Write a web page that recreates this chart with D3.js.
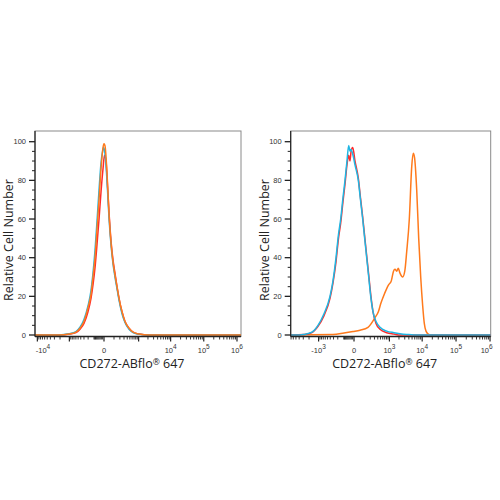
<!DOCTYPE html>
<html>
<head>
<meta charset="utf-8">
<script src="https://cdn.jsdelivr.net/npm/d3@7"></script>
<style>
  body { margin: 0; background: #fff; }
</style>
</head>
<body>
<svg id="chart" width="500" height="500"></svg>
<script>
// histogram traces, [fluorescence, relative count]
const leftRed = [[-2156,0],[-1029,0.4],[-595,1.2],[-427,3],[-300,6],[-203,12],[-146,19],[-114,26],[-86,35],[-62,47],[-41,60],[-23,74],[-7,86],[3.5,93],[15,90],[23,82],[41,64],[62,49],[86,39],[114,32],[146,25],[183,19],[248,12],[328,7],[465,3.5],[645,1.5],[1029,0.5],[2156,0]];
const leftCyan = [[-2156,0],[-1029,0.6],[-595,1.8],[-427,4],[-300,8],[-203,15],[-146,23],[-114,32],[-86,44],[-62,59],[-41,75],[-23,89],[-7,96],[-3.5,97],[7,94],[23,80],[41,61],[62,47],[86,37],[114,30],[146,24],[183,18],[248,11],[328,6.5],[465,3],[645,1.3],[1029,0.4],[2156,0]];
const leftOrange = [[-2156,0],[-1029,0.5],[-595,1.5],[-427,3.5],[-300,7],[-203,14],[-146,21],[-114,30],[-86,40],[-62,55],[-41,70],[-23,86],[-7,97],[0,99],[7,98],[23,84],[41,63],[62,48],[86,38],[114,31],[146,25],[183,19],[248,12],[328,7],[465,3.5],[645,1.5],[1029,0.5],[2156,0]];

const rightRed = [[-2850,0.2],[-1620,1.3],[-1044,4.5],[-662,10],[-408,19],[-315,27],[-238,38],[-186,50],[-146,58],[-111,69],[-84,78],[-61,88],[-43,93],[-31,90],[-22,95],[-9,97],[7,90],[34,81],[55,71],[80,61],[106,51],[136,41],[171,31],[210,21],[262,12],[344,6],[481,3],[815,1.2],[1400,0.5],[2150,0]];
const rightCyan = [[-3770,0],[-2850,0.3],[-1620,1.5],[-1044,5],[-662,11],[-408,20],[-315,28],[-238,40],[-186,52],[-146,60],[-111,71],[-84,80],[-61,90],[-43,98],[-31,95],[-22,96],[-7,93],[7,88],[34,80],[55,70],[80,60],[106,50],[136,40],[171,30],[210,20],[262,12],[344,7],[481,4],[815,2],[1400,1.2],[2150,0.7],[3440,0.3],[5710,0]];
const rightOrange = [[-315,0.2],[-97,1],[-7,1.8],[50,2.5],[158,4],[315,9],[420,12],[520,16.5],[598,19],[815,24],[950,26],[1150,28],[1350,33],[1505,34],[1700,33],[1900,34.5],[2150,32],[2603,30],[3010,33],[3440,43],[4130,60],[4875,87],[5400,94],[5900,92],[6880,75],[7890,50],[9050,30],[10370,15],[11570,6],[13000,2],[15200,0.5],[19150,0]];

const colors = { red: "#ff2b2b", cyan: "#1fb6e3", orange: "#ff7a1c" };

const yTicks = [0, 20, 40, 60, 80, 100];
const xLabelsLeft = [[-1e4, "-10", "4"], [0, "0", ""], [1e4, "10", "4"], [1e5, "10", "5"], [1e6, "10", "6"]];
const xLabelsRight = [[-1e3, "-10", "3"], [0, "0", ""], [1e3, "10", "3"], [1e4, "10", "4"], [1e5, "10", "5"], [1e6, "10", "6"]];
const yTitle = "Relative Cell Number";

const svg = d3.select("#chart");

function majorMinor(domain) {
  const major = [-1e4, -1e3, 0, 1e3, 1e4, 1e5, 1e6];
  let minor = [];
  [100, 1000, 10000, 100000].forEach(b => {
    for (let m = 2; m <= 9; m++) { minor.push(m * b); minor.push(-m * b); }
  });
  for (let m = 1; m <= 9; m++) minor.push(-m * 10);
  minor.push(100, -100);
  const inD = v => v >= domain[0] && v <= domain[1];
  return { major: major.filter(inD), minor: minor.filter(inD) };
}

function drawPanel(opt) {
  const g = svg.append("g");
  const x = d3.scaleSymlog().constant(100).domain(opt.xDomain).range([opt.left, opt.right]);
  const y = d3.scaleLinear().domain([0, 100]).range([335, 141.7]);
  const top = 131, bottom = 336.5;

  // frame
  g.append("rect")
    .attr("x", opt.left).attr("y", top)
    .attr("width", opt.right - opt.left).attr("height", bottom - top)
    .attr("fill", "none").attr("stroke", "#8a8a8a").attr("stroke-width", 1);

  const line = d3.line().x(d => x(d[0])).y(d => y(d[1])).curve(d3.curveMonotoneX);

  opt.traces.forEach(t => {
    const pts = [[opt.xDomain[0], 0]].concat(t.data).concat([[opt.xDomain[1], 0]]);
    g.append("path")
      .attr("d", line(pts))
      .attr("fill", "none")
      .attr("stroke", t.color)
      .attr("stroke-width", 1.5)
      .attr("stroke-linejoin", "round");
  });

  // axes lines
  g.append("line").attr("x1", opt.left).attr("x2", opt.right).attr("y1", bottom).attr("y2", bottom)
    .attr("stroke", "#222").attr("stroke-width", 1.6);
  g.append("line").attr("x1", opt.left).attr("x2", opt.left).attr("y1", top).attr("y2", bottom)
    .attr("stroke", "#222").attr("stroke-width", 1.2);

  // x ticks
  const tk = majorMinor(opt.xDomain);
  tk.major.forEach(v => {
    g.append("line").attr("x1", x(v)).attr("x2", x(v)).attr("y1", bottom).attr("y2", bottom + 5)
      .attr("stroke", "#222").attr("stroke-width", 1.2);
  });
  tk.minor.forEach(v => {
    g.append("line").attr("x1", x(v)).attr("x2", x(v)).attr("y1", bottom).attr("y2", bottom + 3)
      .attr("stroke", "#222").attr("stroke-width", 0.9);
  });

  opt.xLabels.forEach(l => {
    let px = Math.min(Math.max(x(l[0]), opt.left + 8), opt.right - 4);
    const t = g.append("text")
      .attr("x", px).attr("y", 353)
      .attr("text-anchor", "middle")
      .attr("font-family", "Liberation Sans, Arial, sans-serif")
      .attr("font-size", 7.5).attr("fill", "#333");
    t.append("tspan").text(l[1]);
    if (l[2]) t.append("tspan").attr("dy", -4).attr("font-size", 6.5).text(l[2]);
  });

  // y ticks
  for (let v = 0; v <= 100; v += 5) {
    const major = v % 20 === 0;
    g.append("line").attr("x1", opt.left - (major ? 6 : 3)).attr("x2", opt.left)
      .attr("y1", y(v)).attr("y2", y(v))
      .attr("stroke", "#222").attr("stroke-width", major ? 1.3 : 1);
  }
  yTicks.forEach(v => {
    g.append("text")
      .attr("x", opt.left - 9).attr("y", y(v))
      .attr("dy", "0.35em")
      .attr("text-anchor", "end")
      .attr("font-family", "Liberation Sans, Arial, sans-serif")
      .attr("font-size", 7.5).attr("fill", "#333")
      .text(v);
  });

  // titles
  const xt = g.append("text")
    .attr("x", (opt.left + opt.right) / 2 - 6).attr("y", 368)
    .attr("text-anchor", "middle")
    .attr("font-family", "Open Sans, sans-serif")
    .attr("font-size", 12.5).attr("fill", "#222");
  xt.append("tspan").text("CD272-ABflo");
  xt.append("tspan").attr("font-size", 8.5).attr("dy", -3).text("®");
  xt.append("tspan").attr("dy", 3).text(" 647");

  g.append("text")
    .attr("transform", `translate(${opt.left - 22},240) rotate(-90)`)
    .attr("text-anchor", "middle")
    .attr("font-family", "Open Sans, sans-serif")
    .attr("font-size", 12.5).attr("fill", "#222")
    .text(yTitle);
}

drawPanel({
  left: 35, right: 241,
  xDomain: [-11790, 1.32e6],
  xLabels: xLabelsLeft,
  traces: [
    { data: leftRed, color: colors.red },
    { data: leftCyan, color: colors.cyan },
    { data: leftOrange, color: colors.orange }
  ]
});

drawPanel({
  left: 290.7, right: 490.7,
  xDomain: [-7170, 1.046e6],
  xLabels: xLabelsRight,
  traces: [
    { data: rightOrange, color: colors.orange },
    { data: rightRed, color: colors.red },
    { data: rightCyan, color: colors.cyan }
  ]
});
</script>
</body>
</html>
